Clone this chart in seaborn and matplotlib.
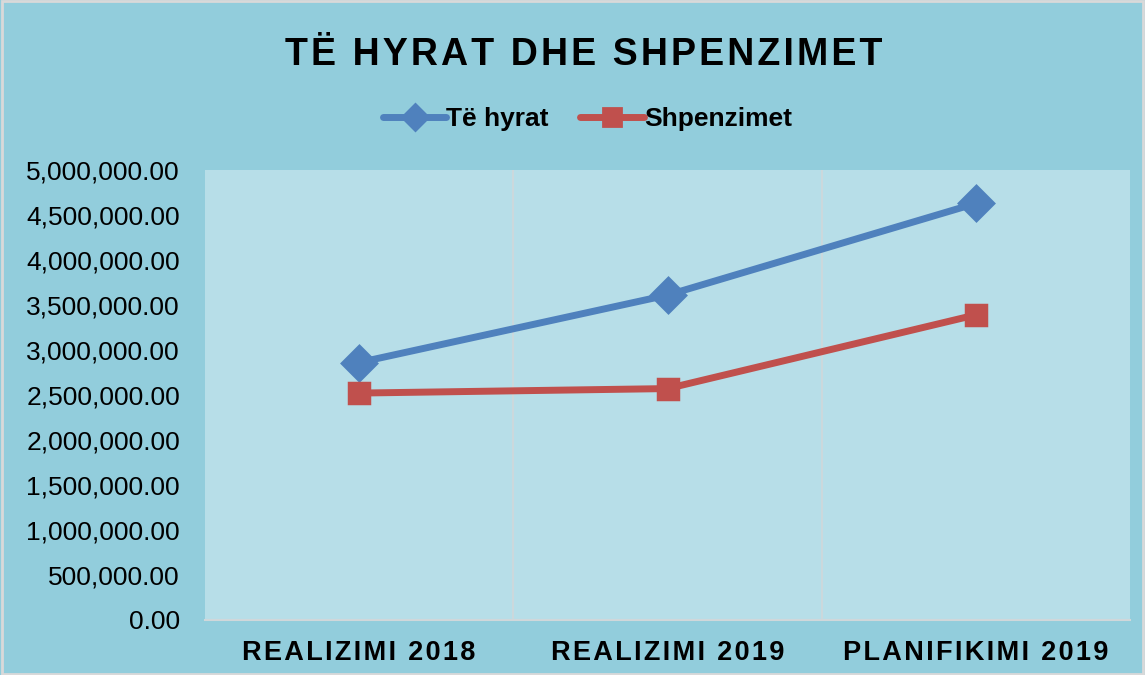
import matplotlib
matplotlib.use("Agg")
import matplotlib.pyplot as plt
import matplotlib.ticker as mticker
from matplotlib.patches import Rectangle
import pandas as pd
import seaborn as sns

# Data
categories = ["REALIZIMI 2018", "REALIZIMI 2019", "PLANIFIKIMI 2019"]
te_hyrat = [2860000, 3610000, 4630000]
shpenzimet = [2520000, 2570000, 3390000]
series_names = ["Të hyrat", "Shpenzimet"]
y_ticks = [0, 500000, 1000000, 1500000, 2000000, 2500000,
           3000000, 3500000, 4000000, 4500000, 5000000]

df = pd.DataFrame({
    "kategoria": categories * 2,
    "vlera": te_hyrat + shpenzimet,
    "seria": [series_names[0]] * 3 + [series_names[1]] * 3,
})
df["pos"] = [0, 1, 2] * 2

sns.set_theme(style="white")
plt.rcParams["font.family"] = ["Liberation Sans", "DejaVu Sans"]
plt.rcParams["text.color"] = "black"


def spaced(s):
    # fake letter spacing with hair spaces
    return "\u200a".join(s)


blue = "#4F81BD"
red = "#C0504D"
fig_bg = "#92CDDC"
plot_bg = "#B7DEE8"
fig = plt.figure(figsize=(11.45, 6.75), dpi=100, facecolor=fig_bg)
ax = fig.add_axes([0.179, 0.082, 0.808, 0.666])
ax.set_facecolor(plot_bg)

sns.lineplot(data=df, x="pos", y="vlera", hue="seria", style="seria",
             markers={"Të hyrat": "D", "Shpenzimet": "s"}, dashes=False,
             palette={"Të hyrat": blue, "Shpenzimet": red},
             linewidth=5, markersize=16, markeredgewidth=2,
             ax=ax, legend=False)
# bigger diamonds, rounded corners like the original
for ln, ms in zip(ax.lines[:2], [17, 15]):
    ln.set_markersize(ms)
    ln.set_markeredgecolor(ln.get_color())
    ln.set_markeredgewidth(2.5)
    ln.set_solid_joinstyle("round")

ax.set_xlim(-0.5, 2.5)
ax.set_ylim(0, 5000000)
ax.set_yticks(y_ticks)
ax.yaxis.set_major_formatter(mticker.StrMethodFormatter("{x:,.2f}"))
ax.set_xticks([0, 1, 2])
ax.set_xticklabels([spaced(c) for c in categories], fontweight="bold", fontsize=19.5)
ax.tick_params(axis="y", labelsize=19, length=0, pad=18, colors="black")
ax.tick_params(axis="x", length=0, pad=15, colors="black")
ax.set_xlabel("")
ax.set_ylabel("")

# category separators
for xv in [0.5, 1.5]:
    ax.axvline(xv, color="#D0D7DA", linewidth=1.2, zorder=0)

for s in ["top", "right", "left"]:
    ax.spines[s].set_visible(False)
ax.spines["bottom"].set_color("#D0D7DA")
ax.spines["bottom"].set_linewidth(1.5)

fig.text(0.51, 0.918, spaced("TË HYRAT DHE SHPENZIMET"), ha="center", va="center",
         fontsize=27, fontweight="bold", color="black")

handles = [
    plt.Line2D([], [], color=blue, lw=5, marker="D", markersize=13,
               markeredgewidth=2, markeredgecolor=blue),
    plt.Line2D([], [], color=red, lw=5, marker="s", markersize=13,
               markeredgewidth=2, markeredgecolor=red),
]
leg = fig.legend(handles, series_names, loc="center", bbox_to_anchor=(0.513, 0.824),
                 ncol=2, frameon=False, handlelength=2.4, columnspacing=1.2,
                 handletextpad=0.0, prop={"weight": "bold", "size": 19})

fig.patches.append(Rectangle((0.002, 0.002), 0.996, 0.996, transform=fig.transFigure,
                             fill=False, edgecolor="#D9D9D9", linewidth=2))

fig.savefig("out.png", dpi=100, facecolor=fig_bg)
